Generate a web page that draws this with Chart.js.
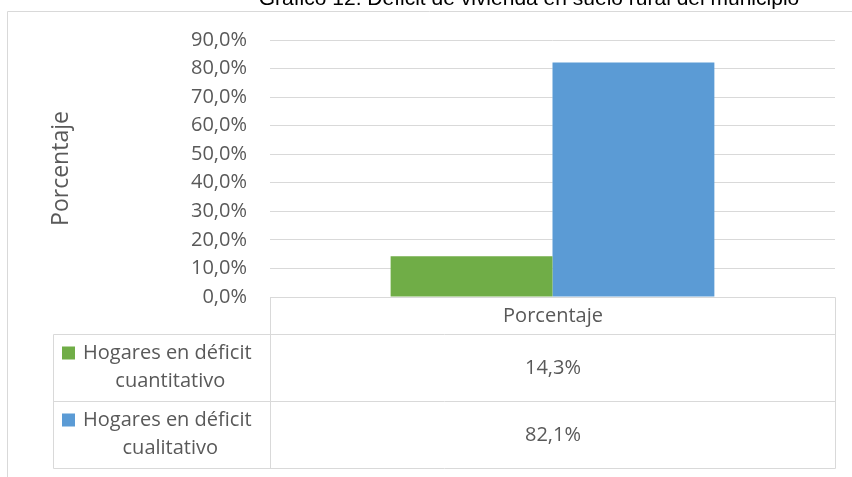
<!DOCTYPE html>
<html>
<head>
<meta charset="utf-8">
<script src="https://cdn.jsdelivr.net/npm/chart.js@4.4.1/dist/chart.umd.min.js"></script>
<style>
    html, body { margin: 0; padding: 0; background: #fff; }
    #wrap { width: 852px; height: 477px; position: relative; }
</style>
</head>
<body>
<div id="wrap"><canvas id="graficoDeficit"></canvas></div>
<script>
// datos del grafico
var titulo = 'Gráfico 12. Déficit de vivienda en suelo rural del municipio';
var categorias = ['Porcentaje'];
var nombresSeries = ['Hogares en déficit cuantitativo', 'Hogares en déficit cualitativo'];
var etiquetasSeries = [['Hogares en déficit', 'cuantitativo'], ['Hogares en déficit', 'cualitativo']];
var valoresSeries = [14.3, 82.1];
var ticksEje = [0, 10, 20, 30, 40, 50, 60, 70, 80, 90];
var tituloEje = 'Porcentaje';

var colores = ['#70AD47', '#5B9BD5'];
var gris = '#595959';
var linea = '#d9d9d9';
var fuente = '"Open Sans", sans-serif';

var formatoPct = function (v) {
    return Number(v).toFixed(1).replace('.', ',') + '%';
};

var datasets = valoresSeries.map(function (v, i) {
    return {
        label: nombresSeries[i],
        data: [v],
        backgroundColor: colores[i],
        borderWidth: 0,
        barPercentage: 1,
        categoryPercentage: 0.573
    };
});

// marco, titulo y tabla de datos debajo del eje
var tablaPlugin = {
    id: 'tablaDatos',
    afterDraw: function (chart) {
        var ctx = chart.ctx;
        var x = chart.scales.x;
        var y = chart.scales.y;
        var y0 = Math.round(y.getPixelForValue(0)) + 0.5;
        var izq = 53.5, sep = Math.round(x.left) + 0.5, der = Math.round(x.right) + 0.5;
        var hCab = 37, hFila = 67;

        ctx.save();
        // marco del grafico
        ctx.strokeStyle = linea;
        ctx.lineWidth = 1;
        ctx.beginPath();
        ctx.moveTo(7.5, 477); ctx.lineTo(7.5, 11.5); ctx.lineTo(852, 11.5);
        ctx.stroke();

        // titulo (cortado arriba)
        ctx.fillStyle = '#000';
        ctx.font = '21px "Liberation Sans", Arial, sans-serif';
        ctx.textAlign = 'center';
        ctx.textBaseline = 'alphabetic';
        ctx.fillText(titulo, 529, 5);

        // lineas de la tabla
        var filas = valoresSeries.length;
        var yFin = y0 + hCab + hFila * filas;
        ctx.beginPath();
        ctx.moveTo(sep, y0); ctx.lineTo(der, y0);
        ctx.moveTo(sep, y0); ctx.lineTo(sep, yFin);
        ctx.moveTo(der, y0); ctx.lineTo(der, yFin);
        ctx.moveTo(izq, y0 + hCab); ctx.lineTo(izq, yFin);
        for (var r = 0; r <= filas; r++) {
            var yy = y0 + hCab + hFila * r;
            ctx.moveTo(izq, yy); ctx.lineTo(der, yy);
        }
        ctx.stroke();

        var cx = (sep + der) / 2;
        ctx.fillStyle = gris;
        ctx.font = '20px ' + fuente;
        ctx.textAlign = 'center';
        ctx.textBaseline = 'middle';
        ctx.fillText(categorias[0], cx, y0 + hCab / 2);

        for (var i = 0; i < filas; i++) {
            var top = y0 + hCab + hFila * i;
            ctx.fillStyle = gris;
            ctx.textAlign = 'center';
            ctx.fillText(formatoPct(valoresSeries[i]), cx, top + hFila / 2);
            // leyenda
            ctx.fillStyle = colores[i];
            ctx.fillRect(62, top + 12, 13, 13);
            ctx.fillStyle = gris;
            ctx.textAlign = 'left';
            var l1 = etiquetasSeries[i][0];
            var w1 = ctx.measureText(l1).width;
            ctx.fillText(l1, 83, top + 19);
            ctx.textAlign = 'center';
            ctx.fillText(etiquetasSeries[i][1], 86 + w1 / 2, top + 47);
        }
        ctx.restore();
    }
};

var canvas = document.getElementById('graficoDeficit');
var myChart = new Chart(canvas, {
    type: 'bar',
    data: { labels: categorias, datasets: datasets },
    options: {
        responsive: true,
        maintainAspectRatio: false,
        animation: false,
        layout: { padding: { top: 40, right: 17, bottom: 180, left: 0 } },
        plugins: { legend: { display: false }, tooltip: { enabled: false } },
        scales: {
            x: { display: false },
            y: {
                min: 0,
                max: 90,
                afterBuildTicks: function (scale) {
                    scale.ticks = ticksEje.map(function (v) { return { value: v }; });
                },
                afterFit: function (scale) { scale.width = 270; },
                border: { display: false },
                grid: { color: linea, drawTicks: false },
                ticks: {
                    padding: 23,
                    color: gris,
                    font: { family: fuente, size: 20 },
                    callback: function (v) { return formatoPct(v); }
                },
                title: {
                    display: true,
                    text: tituloEje,
                    color: gris,
                    font: { family: fuente, size: 23 },
                    padding: { top: 48, bottom: 0 }
                }
            }
        }
    },
    plugins: [tablaPlugin]
});
</script>
</body>
</html>
